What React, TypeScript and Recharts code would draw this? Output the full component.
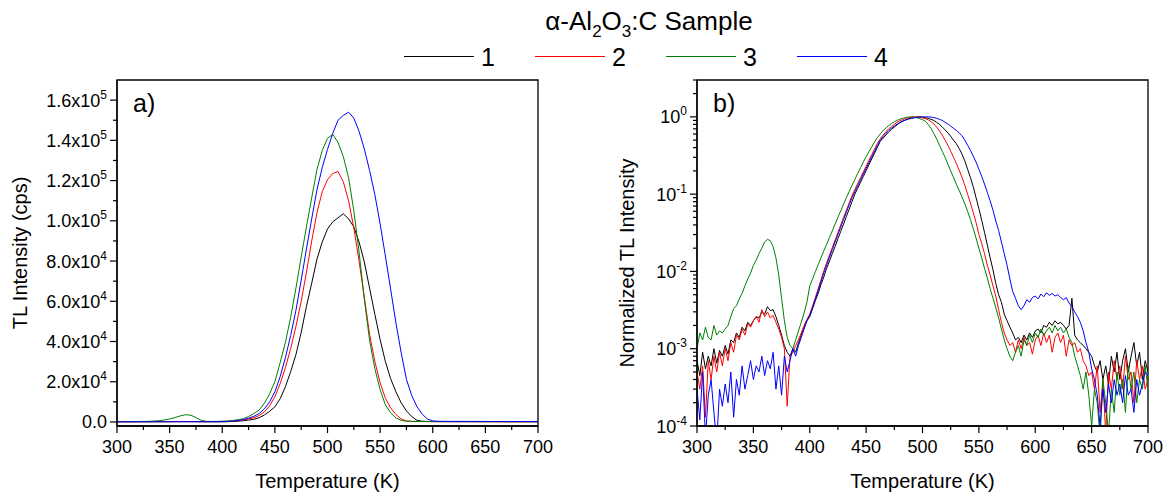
import React from 'react';
import { LineChart, Line, XAxis, YAxis, ReferenceArea } from 'recharts';

const FONT = "'Liberation Sans', Arial, Helvetica, sans-serif";

// ---------- categories ----------
const tempA = [
  300, 305, 310, 315, 320, 325, 330, 335, 340, 345,
  350, 355, 360, 365, 370, 375, 380, 385, 390, 395,
  400, 405, 410, 415, 420, 425, 430, 435, 440, 445,
  450, 455, 460, 465, 470, 475, 480, 485, 490, 495,
  500, 505, 510, 515, 520, 525, 530, 535, 540, 545,
  550, 555, 560, 565, 570, 575, 580, 585, 590, 595,
  600, 605, 610, 615, 620, 625, 630, 635, 640, 645,
  650, 655, 660, 665, 670, 675, 680, 685, 690, 695,
  700,
];

const tempB = [
  300, 302.5, 305, 307.5, 310, 312.5, 315, 317.5, 320, 322.5,
  325, 327.5, 330, 332.5, 335, 337.5, 340, 342.5, 345, 347.5,
  350, 352.5, 355, 357.5, 360, 362.5, 365, 367.5, 370, 372.5,
  375, 377.5, 380, 382.5, 385, 387.5, 390, 392.5, 395, 397.5,
  400, 402.5, 405, 407.5, 410, 412.5, 415, 417.5, 420, 422.5,
  425, 427.5, 430, 432.5, 435, 437.5, 440, 442.5, 445, 447.5,
  450, 452.5, 455, 457.5, 460, 462.5, 465, 467.5, 470, 472.5,
  475, 477.5, 480, 482.5, 485, 487.5, 490, 492.5, 495, 497.5,
  500, 502.5, 505, 507.5, 510, 512.5, 515, 517.5, 520, 522.5,
  525, 527.5, 530, 532.5, 535, 537.5, 540, 542.5, 545, 547.5,
  550, 552.5, 555, 557.5, 560, 562.5, 565, 567.5, 570, 572.5,
  575, 577.5, 580, 582.5, 585, 587.5, 590, 592.5, 595, 597.5,
  600, 602.5, 605, 607.5, 610, 612.5, 615, 617.5, 620, 622.5,
  625, 627.5, 630, 632.5, 635, 637.5, 640, 642.5, 645, 647.5,
  650, 652.5, 655, 657.5, 660, 662.5, 665, 667.5, 670, 672.5,
  675, 677.5, 680, 682.5, 685, 687.5, 690, 692.5, 695, 697.5,
  700,
];

// ---------- panel a) TL intensity (cps) ----------
const tlSample1 = [
  100, 100, 120, 100, 110, 120, 100, 130, 120, 110,
  120, 130, 140, 130, 120, 130, 120, 110, 100, 100,
  100, 150, 250, 400, 650, 950, 1350, 2100, 3500, 5300,
  7500, 11500, 17500, 25000, 33500, 44500, 57500, 69000, 81000, 89500,
  96000, 99500, 101500, 103500, 101000, 97000, 89500, 79500, 66500, 53500,
  41000, 30000, 21500, 15000, 9500, 5500, 2700, 800, 350, 250,
  200, 180, 170, 160, 150, 150, 150, 140, 140, 130,
  130, 120, 130, 120, 110, 120, 110, 110, 100, 100,
  100,
];
const tlSample2 = [
  100, 100, 110, 110, 120, 130, 140, 160, 180, 200,
  220, 240, 260, 250, 230, 200, 150, 130, 130, 140,
  150, 250, 400, 650, 1000, 1500, 2100, 3200, 5000, 8000,
  12500, 19000, 27000, 36500, 47500, 60000, 74500, 90000, 104000, 114500,
  120500, 123500, 124500, 119500, 110000, 96500, 80000, 62000, 43500, 30000,
  19500, 11800, 7000, 3700, 1500, 500, 300, 220, 200, 180,
  170, 160, 160, 150, 150, 150, 150, 140, 140, 140,
  130, 130, 130, 120, 120, 120, 110, 110, 110, 100,
  100,
];
const tlSample3 = [
  150, 200, 200, 250, 250, 280, 330, 450, 650, 1000,
  1500, 2200, 3000, 3600, 3400, 2200, 800, 300, 250, 300,
  400, 500, 750, 1100, 1660, 2700, 4200, 5900, 9300, 14000,
  20000, 29500, 39500, 52000, 66500, 82000, 97000, 111500, 125500, 135000,
  141000, 143000, 139000, 132000, 121500, 105000, 84500, 61000, 40500, 26500,
  16000, 8500, 4600, 2000, 800, 400, 300, 280, 260, 260,
  250, 250, 240, 240, 240, 230, 230, 220, 220, 210,
  210, 200, 200, 200, 190, 190, 180, 180, 180, 170,
  170,
];
const tlSample4 = [
  100, 100, 110, 110, 110, 120, 120, 120, 130, 130,
  130, 140, 140, 150, 150, 150, 160, 170, 180, 190,
  200, 300, 450, 750, 1160, 1900, 2800, 4200, 6500, 10000,
  15000, 22500, 32000, 43000, 55500, 70500, 86000, 101000, 115500, 126500,
  135500, 143500, 150000, 152400, 154000, 151000, 144500, 135700, 125000, 113000,
  98500, 82500, 66000, 49300, 34400, 21200, 13200, 7600, 3900, 1400,
  550, 350, 300, 290, 290, 280, 280, 280, 270, 270,
  260, 260, 250, 250, 250, 240, 240, 240, 230, 230,
  230,
];

// ---------- panel b) normalized TL intensity ----------
const normSample1 = [
  7e-4, 4.5e-4, 9e-4, 5.5e-4, 8e-4, 6e-4, 1.0e-3, 6.5e-4, 9.5e-4, 8e-4,
  1.1e-3, 8.5e-4, 1.3e-3, 1.2e-3, 1.6e-3, 1.4e-3, 1.9e-3, 1.7e-3, 2.2e-3, 2.0e-3,
  2.3e-3, 2.6e-3, 2.5e-3, 3.0e-3, 2.8e-3, 3.5e-3, 3.1e-3, 3.2e-3, 2.6e-3, 2.0e-3,
  1.5e-3, 1.1e-3, 9e-4, 8e-4, 1.0e-3, 9e-4, 1.2e-3, 1.5e-3, 1.9e-3, 2.3e-3,
  2.6e-3, 3.3e-3, 4.2e-3, 5.2e-3, 6.8e-3, 8.5e-3, 1.1e-2, 1.36e-2, 1.7e-2, 2.1e-2,
  2.65e-2, 3.3e-2, 4.1e-2, 5.15e-2, 6.4e-2, 8e-2, 0.1, 0.119, 0.142, 0.169,
  0.201, 0.24, 0.286, 0.34, 0.405, 0.483, 0.53, 0.58, 0.64, 0.69,
  0.74, 0.79, 0.84, 0.88, 0.915, 0.945, 0.965, 0.98, 0.995, 1.0,
  0.99, 0.975, 0.96, 0.93, 0.9, 0.85, 0.8, 0.74, 0.68, 0.62,
  0.56, 0.5, 0.45, 0.39, 0.33, 0.27, 0.21, 0.165, 0.125, 0.09,
  0.065, 0.046, 0.032, 0.022, 0.015, 0.0105, 0.007, 0.005, 0.004, 0.0028,
  2.3e-3, 1.9e-3, 1.6e-3, 1.3e-3, 1.4e-3, 1.2e-3, 1.5e-3, 1.3e-3, 1.6e-3, 1.4e-3,
  1.7e-3, 1.8e-3, 1.6e-3, 2.0e-3, 1.9e-3, 2.2e-3, 2.0e-3, 2.3e-3, 2.1e-3, 2.2e-3,
  2.0e-3, 1.8e-3, 2.0e-3, 4.5e-3, 1.5e-3, 1.3e-3, 1.2e-3, 1.1e-3, 1.0e-3, 9e-4,
  8e-4, 6e-4, 5e-4, 7e-4, 4e-4, 6e-4, 3.5e-4, 8e-4, 5e-4, 9e-4,
  4e-4, 7e-4, 1.0e-3, 5e-4, 8e-4, 1.2e-3, 6e-4, 9e-4, 4e-4, 7e-4,
  5e-4,
];
const normSample2 = [
  5e-4, 3e-4, 6e-4, 1.3e-4, 7e-4, 4e-4, 8e-4, 5e-4, 9e-4, 6e-4,
  1.0e-3, 7e-4, 1.2e-3, 9e-4, 1.5e-3, 1.3e-3, 1.8e-3, 1.5e-3, 2.1e-3, 1.9e-3,
  2.3e-3, 2.6e-3, 2.2e-3, 3.2e-3, 2.6e-3, 3.0e-3, 2.5e-3, 2.7e-3, 2.2e-3, 1.8e-3,
  1.4e-3, 1.0e-3, 1.8e-4, 8e-4, 9e-4, 1.1e-3, 1.3e-3, 1.6e-3, 2.0e-3, 2.4e-3,
  2.8e-3, 3.6e-3, 4.6e-3, 6e-3, 7.8e-3, 1.02e-2, 1.3e-2, 1.63e-2, 2.04e-2, 2.55e-2,
  3.2e-2, 4.0e-2, 5.0e-2, 6.2e-2, 7.7e-2, 9.6e-2, 0.115, 0.137, 0.163, 0.194,
  0.23, 0.275, 0.325, 0.385, 0.455, 0.52, 0.58, 0.64, 0.7, 0.75,
  0.8, 0.85, 0.89, 0.925, 0.955, 0.975, 0.99, 1.0, 1.0, 0.99,
  0.975, 0.95, 0.915, 0.87, 0.81, 0.74, 0.66, 0.58, 0.5, 0.43,
  0.36, 0.3, 0.25, 0.205, 0.165, 0.13, 0.1, 0.077, 0.058, 0.043,
  0.03, 0.023, 0.017, 0.012, 0.009, 0.0065, 0.0048, 0.0032, 0.0022, 0.0016,
  1.3e-3, 1.1e-3, 1.2e-3, 9e-4, 1.3e-3, 1.0e-3, 1.4e-3, 1.1e-3, 1.2e-3, 8.5e-4,
  1.3e-3, 1.5e-3, 1.1e-3, 1.6e-3, 1.2e-3, 1.5e-3, 9e-4, 1.4e-3, 1.6e-3, 1.2e-3,
  1.5e-3, 8e-4, 1.3e-3, 1.1e-3, 1.2e-3, 9e-4, 1.0e-3, 7e-4, 6e-4, 4.5e-4,
  5e-4, 3e-4, 6e-4, 1.5e-4, 4e-4, 8e-5, 5e-4, 3e-4, 7e-4, 4e-4,
  6e-4, 3e-4, 8e-4, 4e-4, 5e-4, 2e-4, 7e-4, 4e-4, 6e-4, 3e-4,
  4e-4,
];
const normSample3 = [
  1.0e-3, 1.6e-3, 1.3e-3, 1.9e-3, 1.4e-3, 1.3e-3, 2.0e-3, 1.5e-3, 1.7e-3, 1.6e-3,
  1.8e-3, 2.0e-3, 2.6e-3, 3.3e-3, 3.6e-3, 4.4e-3, 5.2e-3, 6.5e-3, 8.0e-3, 9.5e-3,
  1.2e-2, 1.4e-2, 1.7e-2, 2.0e-2, 2.4e-2, 2.6e-2, 2.5e-2, 2.1e-2, 1.5e-2, 9e-3,
  4.5e-3, 2.3e-3, 1.4e-3, 1.1e-3, 1.0e-3, 1.3e-3, 1.7e-3, 2.2e-3, 2.9e-3, 4.0e-3,
  6.5e-3, 8e-3, 1.0e-2, 1.22e-2, 1.5e-2, 1.85e-2, 2.25e-2, 2.75e-2, 3.35e-2, 4.1e-2,
  5.0e-2, 6.1e-2, 7.4e-2, 9.0e-2, 0.108, 0.13, 0.155, 0.185, 0.22, 0.26,
  0.305, 0.355, 0.41, 0.475, 0.54, 0.6, 0.66, 0.72, 0.77, 0.82,
  0.86, 0.9, 0.935, 0.96, 0.98, 0.995, 1.0, 0.99, 0.975, 0.95,
  0.92, 0.88, 0.8, 0.71, 0.61, 0.52, 0.43, 0.36, 0.3, 0.245,
  0.2, 0.165, 0.135, 0.112, 0.092, 0.075, 0.06, 0.047, 0.036, 0.027,
  0.02, 0.015, 0.011, 0.0082, 0.006, 0.0045, 0.0034, 0.0025, 0.0018, 0.0013,
  1.0e-3, 8e-4, 7e-4, 9e-4, 1.1e-3, 8e-4, 1.3e-3, 1.1e-3, 1.5e-3, 1.2e-3,
  1.6e-3, 1.4e-3, 1.8e-3, 1.5e-3, 1.7e-3, 1.9e-3, 1.6e-3, 2.0e-3, 1.7e-3, 1.9e-3,
  1.6e-3, 1.8e-3, 1.4e-3, 1.2e-3, 8e-4, 6e-4, 4.5e-4, 3e-4, 5e-4, 2.5e-4,
  1.0e-4, 3e-4, 2e-4, 7e-5, 4e-4, 2e-4, 8e-5, 3e-4, 1.5e-4, 5e-4,
  2.5e-4, 4e-4, 1.5e-4, 6e-4, 3e-4, 5e-4, 2e-4, 4e-4, 3e-4, 6e-4,
  3e-4,
];
const normSample4 = [
  3e-4, 1.2e-4, 5e-4, 7e-5, 2.5e-4, 4e-4, 1.5e-4, 6e-5, 3e-4, 1.8e-4,
  3.5e-4, 2e-4, 5e-4, 1.3e-4, 4e-4, 2.5e-4, 6e-4, 3e-4, 4.5e-4, 7e-4,
  4e-4, 6e-4, 5e-4, 8e-4, 4.5e-4, 7e-4, 5.5e-4, 9e-4, 3e-4, 6e-4,
  2.5e-4, 8e-4, 5e-4, 7e-4, 1.0e-3, 8e-4, 1.1e-3, 1.4e-3, 1.8e-3, 2.3e-3,
  2.7e-3, 3.4e-3, 4.4e-3, 5.7e-3, 7.4e-3, 9.6e-3, 1.22e-2, 1.53e-2, 1.92e-2, 2.4e-2,
  3.0e-2, 3.75e-2, 4.7e-2, 5.85e-2, 7.3e-2, 9.0e-2, 0.108, 0.129, 0.153, 0.182,
  0.216, 0.257, 0.305, 0.36, 0.425, 0.495, 0.555, 0.61, 0.665, 0.715,
  0.76, 0.805, 0.845, 0.88, 0.91, 0.935, 0.955, 0.97, 0.985, 0.995,
  1.0, 1.0, 1.0, 0.995, 0.98, 0.96, 0.93, 0.9, 0.85, 0.81,
  0.76, 0.71, 0.67, 0.62, 0.57, 0.5, 0.43, 0.37, 0.31, 0.26,
  0.21, 0.17, 0.135, 0.105, 0.082, 0.062, 0.045, 0.034, 0.024, 0.017,
  0.012, 0.008, 0.0055, 0.0045, 0.0036, 0.0032, 0.0036, 0.0043, 0.004, 0.0046,
  4.8e-3, 4.4e-3, 5.1e-3, 4.7e-3, 5.3e-3, 4.9e-3, 5.2e-3, 4.8e-3, 5.0e-3, 4.6e-3,
  4.3e-3, 4.6e-3, 3.9e-3, 3.5e-3, 3.0e-3, 2.6e-3, 2.2e-3, 1.7e-3, 1.2e-3, 9e-4,
  5.5e-4, 4e-4, 2.5e-4, 1.0e-4, 3e-4, 1.5e-4, 3.5e-4, 2e-4, 4e-4, 2.5e-4,
  3.5e-4, 2e-4, 4.5e-4, 2.5e-4, 3e-4, 1.5e-4, 4e-4, 2.5e-4, 3.5e-4, 5e-4,
  4.5e-4,
];

// ---------- ticks / labels ----------
const xTicks = [300, 325, 350, 375, 400, 425, 450, 475, 500, 525, 550, 575, 600, 625, 650, 675, 700];
const yTicksA = [
  0, 10000, 20000, 30000, 40000, 50000, 60000, 70000, 80000, 90000,
  100000, 110000, 120000, 130000, 140000, 150000, 160000,
];
const yTicksB = [
  1e-4, 2e-4, 3e-4, 4e-4, 5e-4, 6e-4, 7e-4, 8e-4, 9e-4,
  1e-3, 2e-3, 3e-3, 4e-3, 5e-3, 6e-3, 7e-3, 8e-3, 9e-3,
  1e-2, 2e-2, 3e-2, 4e-2, 5e-2, 6e-2, 7e-2, 8e-2, 9e-2,
  1e-1, 2e-1, 3e-1, 4e-1, 5e-1, 6e-1, 7e-1, 8e-1, 9e-1,
  1, 2, 3,
];
const sampleNames = ['1', '2', '3', '4'];
const sampleKeys = ['s1', 's2', 's3', 's4'];
const sampleColors = ['#000000', '#ff0000', '#008000', '#0000ff'];

const leftData = tempA.map((T, i) => ({
  T, s1: tlSample1[i], s2: tlSample2[i], s3: tlSample3[i], s4: tlSample4[i],
}));
const rightData = tempB.map((T, i) => ({
  T, s1: normSample1[i], s2: normSample2[i], s3: normSample3[i], s4: normSample4[i],
}));

// ---------- tick renderers ----------
function XTick(props: any) {
  const { x, y, payload } = props;
  const v = payload.value;
  const major = v % 50 === 0;
  return (
    <g>
      <line x1={x} y1={y} x2={x} y2={y + (major ? 7 : 4)} stroke="#000" strokeWidth={1.2} />
      {major && (
        <text x={x} y={y + 27} textAnchor="middle" fontSize={18} fontFamily={FONT} fill="#000">
          {v}
        </text>
      )}
    </g>
  );
}

function YTickLin(props: any) {
  const { x, y, payload } = props;
  const v = payload.value;
  const major = v % 20000 === 0;
  let label: React.ReactNode = null;
  if (major) {
    if (v === 0) {
      label = (
        <text x={x - 10} y={y + 6.5} textAnchor="end" fontSize={18} fontFamily={FONT} fill="#000">0.0</text>
      );
    } else {
      const e = Math.floor(Math.log10(v) + 1e-9);
      const m = (v / Math.pow(10, e)).toFixed(1);
      label = (
        <text x={x - 10} y={y + 6.5} textAnchor="end" fontSize={18} fontFamily={FONT} fill="#000">
          {m}x10<tspan dy={-8} fontSize={12}>{e}</tspan>
        </text>
      );
    }
  }
  return (
    <g>
      <line x1={x - (major ? 7 : 4)} y1={y} x2={x} y2={y} stroke="#000" strokeWidth={1.2} />
      {label}
    </g>
  );
}

function YTickLog(props: any) {
  const { x, y, payload } = props;
  const v = payload.value;
  const lg = Math.log10(v);
  const major = Math.abs(lg - Math.round(lg)) < 1e-6;
  return (
    <g>
      <line x1={x - (major ? 7 : 4)} y1={y} x2={x} y2={y} stroke="#000" strokeWidth={1.2} />
      {major && (
        <text x={x - 10} y={y + 6.5} textAnchor="end" fontSize={18} fontFamily={FONT} fill="#000">
          10<tspan dy={-8} fontSize={12}>{Math.round(lg)}</tspan>
        </text>
      )}
    </g>
  );
}

const axisLineStyle = { stroke: '#000', strokeWidth: 1.3 };

function Lines() {
  return sampleKeys.map((k, i) => (
    <Line
      key={k}
      type="linear"
      dataKey={k}
      name={sampleNames[i]}
      stroke={sampleColors[i]}
      strokeWidth={1}
      dot={false}
      activeDot={false}
      isAnimationActive={false}
    />
  ));
}

export default function App() {
  return (
    <div style={{ position: 'absolute', left: 0, top: 0, width: 1174, height: 496, background: '#fff', overflow: 'hidden' }}>
      <div style={{ position: 'absolute', left: 0, top: 0 }}>
        <LineChart width={560} height={496} data={leftData} margin={{ top: 80, right: 22, bottom: 40, left: 0 }}>
          <XAxis
            dataKey="T" type="number" domain={[300, 700]} ticks={xTicks} interval={0}
            tickSize={0} tickMargin={0} tickLine={false} tick={(p: any) => <XTick {...p} />}
            axisLine={axisLineStyle} height={30} allowDataOverflow
          />
          <YAxis
            type="number" domain={[-2000, 170000]} ticks={yTicksA} interval={0}
            tickSize={0} tickMargin={0} tickLine={false} tick={(p: any) => <YTickLin {...p} />}
            axisLine={axisLineStyle} width={117} allowDataOverflow
          />
          <ReferenceArea x1={300} x2={700} y1={-2000} y2={170000} fill="none" stroke="#000" strokeWidth={1.3} ifOverflow="visible" />
          {Lines()}
        </LineChart>
      </div>
      <div style={{ position: 'absolute', left: 580, top: 0 }}>
        <LineChart width={594} height={496} data={rightData} margin={{ top: 80, right: 26, bottom: 40, left: 0 }}>
          <XAxis
            dataKey="T" type="number" domain={[300, 700]} ticks={xTicks} interval={0}
            tickSize={0} tickMargin={0} tickLine={false} tick={(p: any) => <XTick {...p} />}
            axisLine={axisLineStyle} height={30} allowDataOverflow
          />
          <YAxis
            type="number" scale="log" domain={[1e-4, 3]} ticks={yTicksB} interval={0}
            tickSize={0} tickMargin={0} tickLine={false} tick={(p: any) => <YTickLog {...p} />}
            axisLine={axisLineStyle} width={117} allowDataOverflow
          />
          <ReferenceArea x1={300} x2={700} y1={1e-4} y2={3} fill="none" stroke="#000" strokeWidth={1.3} ifOverflow="visible" />
          {Lines()}
        </LineChart>
      </div>
      <svg
        width={1174} height={496}
        style={{ position: 'absolute', left: 0, top: 0, pointerEvents: 'none' }}
        fontFamily={FONT}
      >
        <text x={649} y={30} textAnchor="middle" fontSize={26} fill="#000">
          α-Al<tspan dy={7} fontSize={17}>2</tspan><tspan dy={-7}>O</tspan><tspan dy={7} fontSize={17}>3</tspan><tspan dy={-7}>:C Sample</tspan>
        </text>
        {sampleNames.map((n, i) => {
          const x0 = [404, 535, 666, 797][i];
          return (
            <g key={n}>
              <line x1={x0} y1={56.5} x2={x0 + 70} y2={56.5} stroke={sampleColors[i]} strokeWidth={1} />
              <text x={x0 + 77} y={66} fontSize={25} fill="#000">{n}</text>
            </g>
          );
        })}
        <text x={133} y={112} fontSize={25} fill="#000">a)</text>
        <text x={713} y={112} fontSize={25} fill="#000">b)</text>
        <text x={327.5} y={488} textAnchor="middle" fontSize={20} fill="#000">Temperature (K)</text>
        <text x={922.5} y={488} textAnchor="middle" fontSize={20} fill="#000">Temperature (K)</text>
        <text x={27} y={253} textAnchor="middle" fontSize={20} fill="#000" transform="rotate(-90 27 253)">TL Intensity (cps)</text>
        <text x={634} y={263} textAnchor="middle" fontSize={20} fill="#000" transform="rotate(-90 634 263)">Normalized TL Intensity</text>
      </svg>
    </div>
  );
}
